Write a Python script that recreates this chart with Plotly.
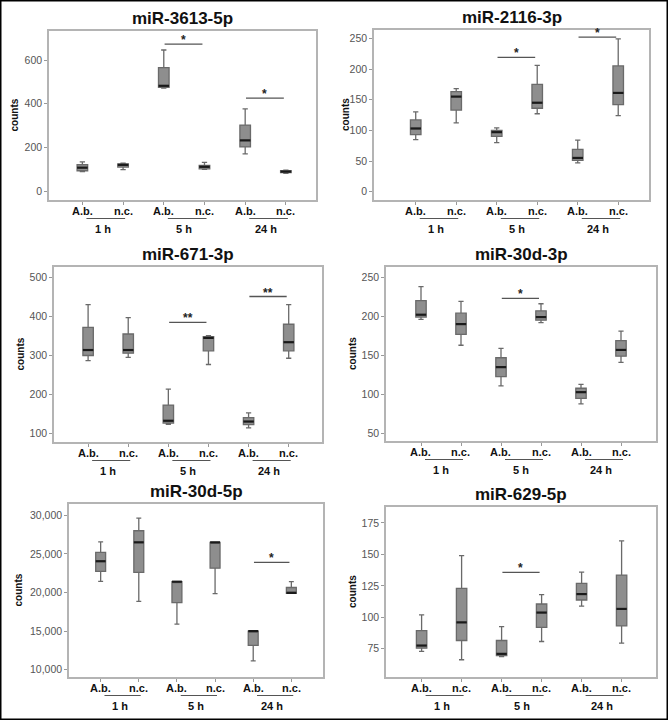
import plotly.graph_objects as go

W, H = 668, 720

# ---------------- data ----------------
categories = ["A.b.", "n.c.", "A.b.", "n.c.", "A.b.", "n.c."]
groups = ["1 h", "5 h", "24 h"]
titles = ["miR-3613-5p", "miR-2116-3p", "miR-671-3p",
          "miR-30d-3p", "miR-30d-5p", "miR-629-5p"]

# order of boxes: A.b. 1h, n.c. 1h, A.b. 5h, n.c. 5h, A.b. 24h, n.c. 24h
mir3613_low = [89, 98, 472, 99, 170, 81]
mir3613_q1 = [93, 110, 475, 102, 202, 84]
mir3613_med = [107, 120, 482, 111, 232, 89]
mir3613_q3 = [121, 124, 565, 118, 302, 93]
mir3613_high = [134, 128, 646, 131, 376, 96]

mir2116_low = [85, 112, 80, 127, 47, 124]
mir2116_q1 = [93, 133, 90, 136, 51, 142]
mir2116_med = [103, 155, 97, 145, 55, 161]
mir2116_q3 = [117, 163, 100, 175, 69, 205]
mir2116_high = [130, 168, 104, 206, 84, 249]

mir671_low = [287, 295, 124, 277, 115, 293]
mir671_q1 = [300, 306, 127, 312, 123, 312]
mir671_med = [314, 314, 133, 345, 131, 334]
mir671_q3 = [372, 355, 173, 348, 141, 380]
mir671_high = [430, 397, 214, 351, 153, 430]

mir30d3_low = [196, 163, 111, 192, 88, 141]
mir30d3_q1 = [199, 177, 123, 195, 95, 149]
mir30d3_med = [202, 190, 135, 199, 103, 157]
mir30d3_q3 = [220, 204, 147, 207, 108, 169]
mir30d3_high = [238, 219, 159, 216, 113, 181]

mir30d5_low = [21450, 18850, 15900, 19850, 11150, 19900]
mir30d5_q1 = [22750, 22600, 18700, 23150, 13150, 19900]
mir30d5_med = [24050, 26500, 21400, 26500, 15000, 19950]
mir30d5_q3 = [25200, 28000, 21400, 26500, 15000, 20650]
mir30d5_high = [26550, 29650, 21400, 26500, 15000, 21400]

mir629_low = [72.9, 66.3, 68.9, 80.8, 109, 79.5]
mir629_q1 = [75.5, 81.6, 69.7, 92, 113.8, 93.2]
mir629_med = [77.6, 96, 71, 103.8, 118.5, 106.7]
mir629_q3 = [89.5, 123, 81.6, 110.6, 127, 133.6]
mir629_high = [102, 149, 92.7, 118, 136, 160.8]

# significance: (time group index, bar level, label)
sig_3613 = [(1, 673, "*"), (2, 426, "*")]
sig_2116 = [(1, 219, "*"), (2, 252, "*")]
sig_671 = [(1, 385, "**"), (2, 451, "**")]
sig_30d3 = [(1, 223, "*")]
sig_30d5 = [(2, 23909, "*")]
sig_629 = [(1, 135.7, "*")]

yticks_3613 = [0, 200, 400, 600]
yticks_2116 = [0, 50, 100, 150, 200, 250]
yticks_671 = [100, 200, 300, 400, 500]
yticks_30d3 = [50, 100, 150, 200, 250]
yticks_30d5 = [10000, 15000, 20000, 25000, 30000]
yticks_629 = [75, 100, 125, 150, 175]

panels = [
    dict(title=titles[0], low=mir3613_low, q1=mir3613_q1, med=mir3613_med, q3=mir3613_q3, high=mir3613_high,
         sig=sig_3613, yticks=yticks_3613, yr=[-41, 733], xr=[-0.82, 5.74], frame=(49, 316, 31, 200), ylab_x=14),
    dict(title=titles[1], low=mir2116_low, q1=mir2116_q1, med=mir2116_med, q3=mir2116_q3, high=mir2116_high,
         sig=sig_2116, yticks=yticks_2116, yr=[-13.6, 263.6], xr=[-1.03, 5.76], frame=(374, 649, 30, 200), ylab_x=346),
    dict(title=titles[2], low=mir671_low, q1=mir671_q1, med=mir671_med, q3=mir671_q3, high=mir671_high,
         sig=sig_671, yticks=yticks_671, yr=[78.6, 526.5], xr=[-0.85, 5.83], frame=(54, 322, 267, 442), ylab_x=20),
    dict(title=titles[3], low=mir30d3_low, q1=mir30d3_q1, med=mir30d3_med, q3=mir30d3_q3, high=mir30d3_high,
         sig=sig_30d3, yticks=yticks_30d3, yr=[40.6, 263], xr=[-0.875, 5.875], frame=(386, 656, 267, 441), ylab_x=352),
    dict(title=titles[4], low=mir30d5_low, q1=mir30d5_q1, med=mir30d5_med, q3=mir30d5_q3, high=mir30d5_high,
         sig=sig_30d5, yticks=yticks_30d5, yr=[9050, 31468], xr=[-0.83, 5.83], frame=(69, 323, 504, 677), ylab_x=18),
    dict(title=titles[5], low=mir629_low, q1=mir629_q1, med=mir629_med, q3=mir629_q3, high=mir629_high,
         sig=sig_629, yticks=yticks_629, yr=[52.6, 187.7], xr=[-0.89, 5.86], frame=(386, 656, 507, 677), ylab_x=352),
]

FONT = "Liberation Sans, Arial, sans-serif"
BOX_FILL = "#8e8e8e"
BOX_LINE = "#6a6a6a"
FRAME = "#b4b4b4"
BOXW = 0.26


def px_x(p):
    return p / W


def px_y(p):
    return 1 - p / H


fig = go.Figure()
shapes = []
annotations = []
layout_axes = {}

positions = list(range(len(categories)))

for i, p in enumerate(panels):
    n = i + 1
    xa = "x" if n == 1 else f"x{n}"
    ya = "y" if n == 1 else f"y{n}"
    xl, xr_, yt, yb = p["frame"]

    fig.add_trace(go.Box(
        x=positions, q1=p["q1"], median=p["med"], q3=p["q3"],
        lowerfence=p["low"], upperfence=p["high"],
        width=BOXW, whiskerwidth=0.5, boxpoints=False,
        fillcolor=BOX_FILL, line=dict(color=BOX_LINE, width=1.3),
        xaxis=xa, yaxis=ya, showlegend=False, hoverinfo="skip",
    ))
    # thick dark median lines
    mx, my = [], []
    for k, m in zip(positions, p["med"]):
        mx += [k - BOXW / 2, k + BOXW / 2, None]
        my += [m, m, None]
    fig.add_trace(go.Scatter(x=mx, y=my, mode="lines",
                             line=dict(color="#1a1a1a", width=2.2),
                             xaxis=xa, yaxis=ya, showlegend=False, hoverinfo="skip"))

    axcommon = dict(showline=True, linecolor=FRAME, linewidth=1.5, mirror=True,
                    showgrid=False, zeroline=False, ticks="outside",
                    ticklen=3, tickcolor="#999999", tickwidth=1)
    layout_axes["xaxis" if n == 1 else f"xaxis{n}"] = dict(
        axcommon, domain=[px_x(xl), px_x(xr_)], range=p["xr"], anchor=ya,
        tickvals=positions, showticklabels=False,
    )
    layout_axes["yaxis" if n == 1 else f"yaxis{n}"] = dict(
        axcommon, domain=[px_y(yb), px_y(yt)], range=p["yr"], anchor=xa,
        tickvals=p["yticks"], tickformat=",",
        tickfont=dict(family=FONT, size=10.5, color="#555555"),
    )

    # category labels
    for k, lab in zip(positions, categories):
        annotations.append(dict(text=lab, x=k, y=px_y(yb + 11),
                                xref=xa, yref="paper", xanchor="center", yanchor="middle",
                                showarrow=False,
                                font=dict(family=FONT, size=11, color="#111111", weight="bold")))
    # title
    annotations.append(dict(text=p["title"], x=px_x((xl + xr_) / 2), y=px_y(yt - 1),
                            xref="paper", yref="paper", xanchor="center", yanchor="bottom",
                            showarrow=False,
                            font=dict(family=FONT, size=17, color="#111111", weight="bold")))
    # y label
    annotations.append(dict(text="counts", x=px_x(p["ylab_x"]), y=px_y((yt + yb) / 2),
                            xref="paper", yref="paper", xanchor="center", yanchor="middle",
                            textangle=-90, showarrow=False,
                            font=dict(family=FONT, size=10, color="#111111", weight="bold")))
    # group underlines and labels
    for g, lab in enumerate(groups):
        shapes.append(dict(type="line", xref=xa, yref="paper",
                           x0=2 * g + 0.1, x1=2 * g + 1.05,
                           y0=px_y(yb + 18.5), y1=px_y(yb + 18.5),
                           line=dict(color="#555555", width=1.2)))
        annotations.append(dict(text=lab, x=2 * g + 0.5, y=px_y(yb + 28.5),
                                xref=xa, yref="paper", xanchor="center", yanchor="middle",
                                showarrow=False,
                                font=dict(family=FONT, size=11, color="#111111", weight="bold")))
    # significance bars
    for g, lvl, lab in p["sig"]:
        shapes.append(dict(type="line", xref=xa, yref=ya,
                           x0=2 * g + 0.02, x1=2 * g + 0.95, y0=lvl, y1=lvl,
                           line=dict(color="#555555", width=1.3)))
        annotations.append(dict(text=lab, x=2 * g + 0.48, y=lvl,
                                xref=xa, yref=ya, xanchor="center", yanchor="bottom",
                                yshift=-5, showarrow=False,
                                font=dict(family=FONT, size=12, color="#222222", weight="bold")))

# outer black border
shapes.append(dict(type="rect", xref="paper", yref="paper", x0=0, x1=1, y0=0, y1=1,
                   line=dict(color="black", width=3)))

fig.update_layout(
    width=W, height=H, margin=dict(l=0, r=0, t=0, b=0),
    paper_bgcolor="white", plot_bgcolor="white",
    shapes=shapes, annotations=annotations, showlegend=False,
    **layout_axes,
)

fig.write_html("out.html", config={"displayModeBar": False},
               post_script="document.body.style.margin='0';document.body.style.overflow='hidden';")
